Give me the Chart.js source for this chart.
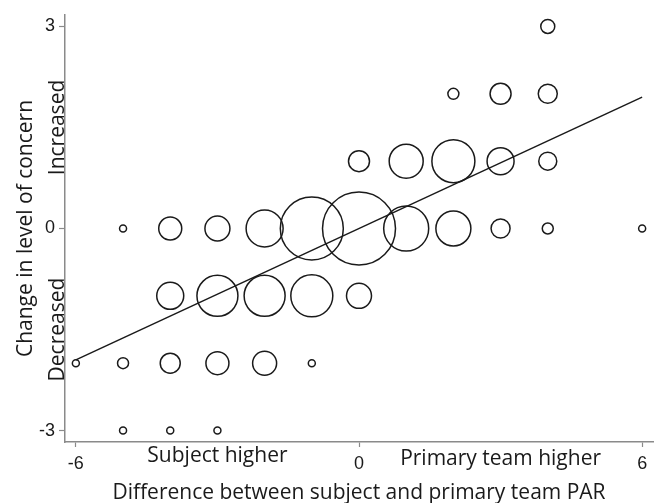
<!DOCTYPE html>
<html lang="en">
<head>
    <meta charset="UTF-8">
    <title>Change in level of concern</title>
    <script src="https://cdn.jsdelivr.net/npm/chart.js"></script>
    <style>
        html, body { margin: 0; padding: 0; background: #fff; }
        #wrap { width: 659px; height: 503px; }
    </style>
</head>
<body>
    <div id="wrap"><canvas id="concernChart" width="659" height="503"></canvas></div>

    <script>
        // bubbles per row of "change in concern" (y), x = PAR difference, r = bubble size
        const rowY = [3, 2, 1, 0, -1, -2, -3];
        const rowX = [
            [4],
            [2, 3, 4],
            [0, 1, 2, 3, 4],
            [-5, -4, -3, -2, -1, 0, 1, 2, 3, 4, 6],
            [-4, -3, -2, -1, 0],
            [-6, -5, -4, -3, -2, -1],
            [-5, -4, -3]
        ];
        const rowR = [
            [7],
            [5.5, 10.5, 9.5],
            [10.5, 17, 21.5, 13.5, 9],
            [3.5, 11.5, 12.5, 18.5, 31.5, 36.5, 22.5, 17.5, 9.5, 5.5, 3.5],
            [13.5, 20.5, 20.5, 21, 12.5],
            [3.5, 5.5, 10, 11.5, 12, 3.5],
            [3.5, 3.5, 3.5]
        ];
        // fitted line, end points
        const fitX = [-6, 6];
        const fitY = [-1.95, 1.95];

        const xTicks = [-6, 0, 6];
        const yTicks = [-3, 0, 3];
        const xSideLabels = [[-3, 'Subject higher'], [3, 'Primary team higher']];
        const ySideLabels = [[1.5, 'Increased'], [-1.5, 'Decreased']];

        const textFont = '"Open Sans", Lato, sans-serif';
        const textSize = 21;
        const axisGrey = '#8a8a8a';

        let bubbles = [];
        rowY.forEach((y, i) => {
            rowX[i].forEach((x, j) => bubbles.push({ x: x, y: y, r: rowR[i][j] }));
        });

        // side texts next to the axes
        const sideLabels = {
            id: 'sideLabels',
            afterDraw(chart) {
                const ctx = chart.ctx;
                const xs = chart.scales.x, ys = chart.scales.y;
                const area = chart.chartArea;
                ctx.save();
                ctx.fillStyle = '#1a1a1a';
                ctx.font = textSize + 'px ' + textFont;
                ctx.textAlign = 'center';
                ctx.textBaseline = 'middle';
                xSideLabels.forEach(([v, t], i) => {
                    ctx.fillText(t, xs.getPixelForValue(v), area.bottom + (i === 0 ? 14 : 17));
                });
                ySideLabels.forEach(([v, t]) => {
                    ctx.save();
                    ctx.translate(area.left - 7, ys.getPixelForValue(v));
                    ctx.rotate(-Math.PI / 2);
                    ctx.fillText(t, 0, 0);
                    ctx.restore();
                });
                ctx.restore();
            }
        };

        const ctx = document.getElementById('concernChart').getContext('2d');
        new Chart(ctx, {
            data: {
                datasets: [{
                    type: 'bubble',
                    data: bubbles,
                    backgroundColor: 'rgba(0,0,0,0)',
                    borderColor: '#1a1a1a',
                    borderWidth: 1.5,
                    hoverBorderWidth: 1.5,
                    clip: false
                }, {
                    type: 'line',
                    data: fitX.map((x, i) => ({ x: x, y: fitY[i] })),
                    borderColor: '#1a1a1a',
                    borderWidth: 1.5,
                    pointRadius: 0,
                    fill: false
                }]
            },
            options: {
                responsive: false,
                animation: false,
                layout: { autoPadding: false, padding: { top: 15, right: 6, left: 0, bottom: 0 } },
                plugins: { legend: { display: false }, tooltip: { enabled: false } },
                scales: {
                    x: {
                        type: 'linear',
                        min: -6.23, max: 6.23,
                        afterBuildTicks: s => { s.ticks = xTicks.map(v => ({ value: v })); },
                        afterFit: s => { s.height = 61; },
                        border: { color: axisGrey, width: 1.5 },
                        grid: { drawOnChartArea: false, tickLength: 5, color: axisGrey, tickWidth: 1.2 },
                        ticks: {
                            color: '#1a1a1a',
                            font: { family: 'Liberation Sans, Arial, sans-serif', size: 18 },
                            padding: 6,
                            maxRotation: 0
                        },
                        title: {
                            display: true,
                            text: 'Difference between subject and primary team PAR',
                            color: '#1a1a1a',
                            font: { family: textFont, size: textSize },
                            padding: { top: 0, bottom: -3 }
                        }
                    },
                    y: {
                        type: 'linear',
                        min: -3.17, max: 3.17,
                        afterBuildTicks: s => { s.ticks = yTicks.map(v => ({ value: v })); },
                        afterFit: s => { s.width = 65; },
                        border: { color: axisGrey, width: 1.5 },
                        grid: { drawOnChartArea: false, tickLength: 6, color: axisGrey, tickWidth: 1.2 },
                        ticks: {
                            color: '#1a1a1a',
                            font: { family: 'Liberation Sans, Arial, sans-serif', size: 18 },
                            padding: 4
                        },
                        title: {
                            display: true,
                            text: 'Change in level of concern',
                            color: '#1a1a1a',
                            font: { family: textFont, size: textSize },
                            padding: { top: 13, bottom: 0 }
                        }
                    }
                }
            },
            plugins: [sideLabels]
        });
    </script>
</body>
</html>
